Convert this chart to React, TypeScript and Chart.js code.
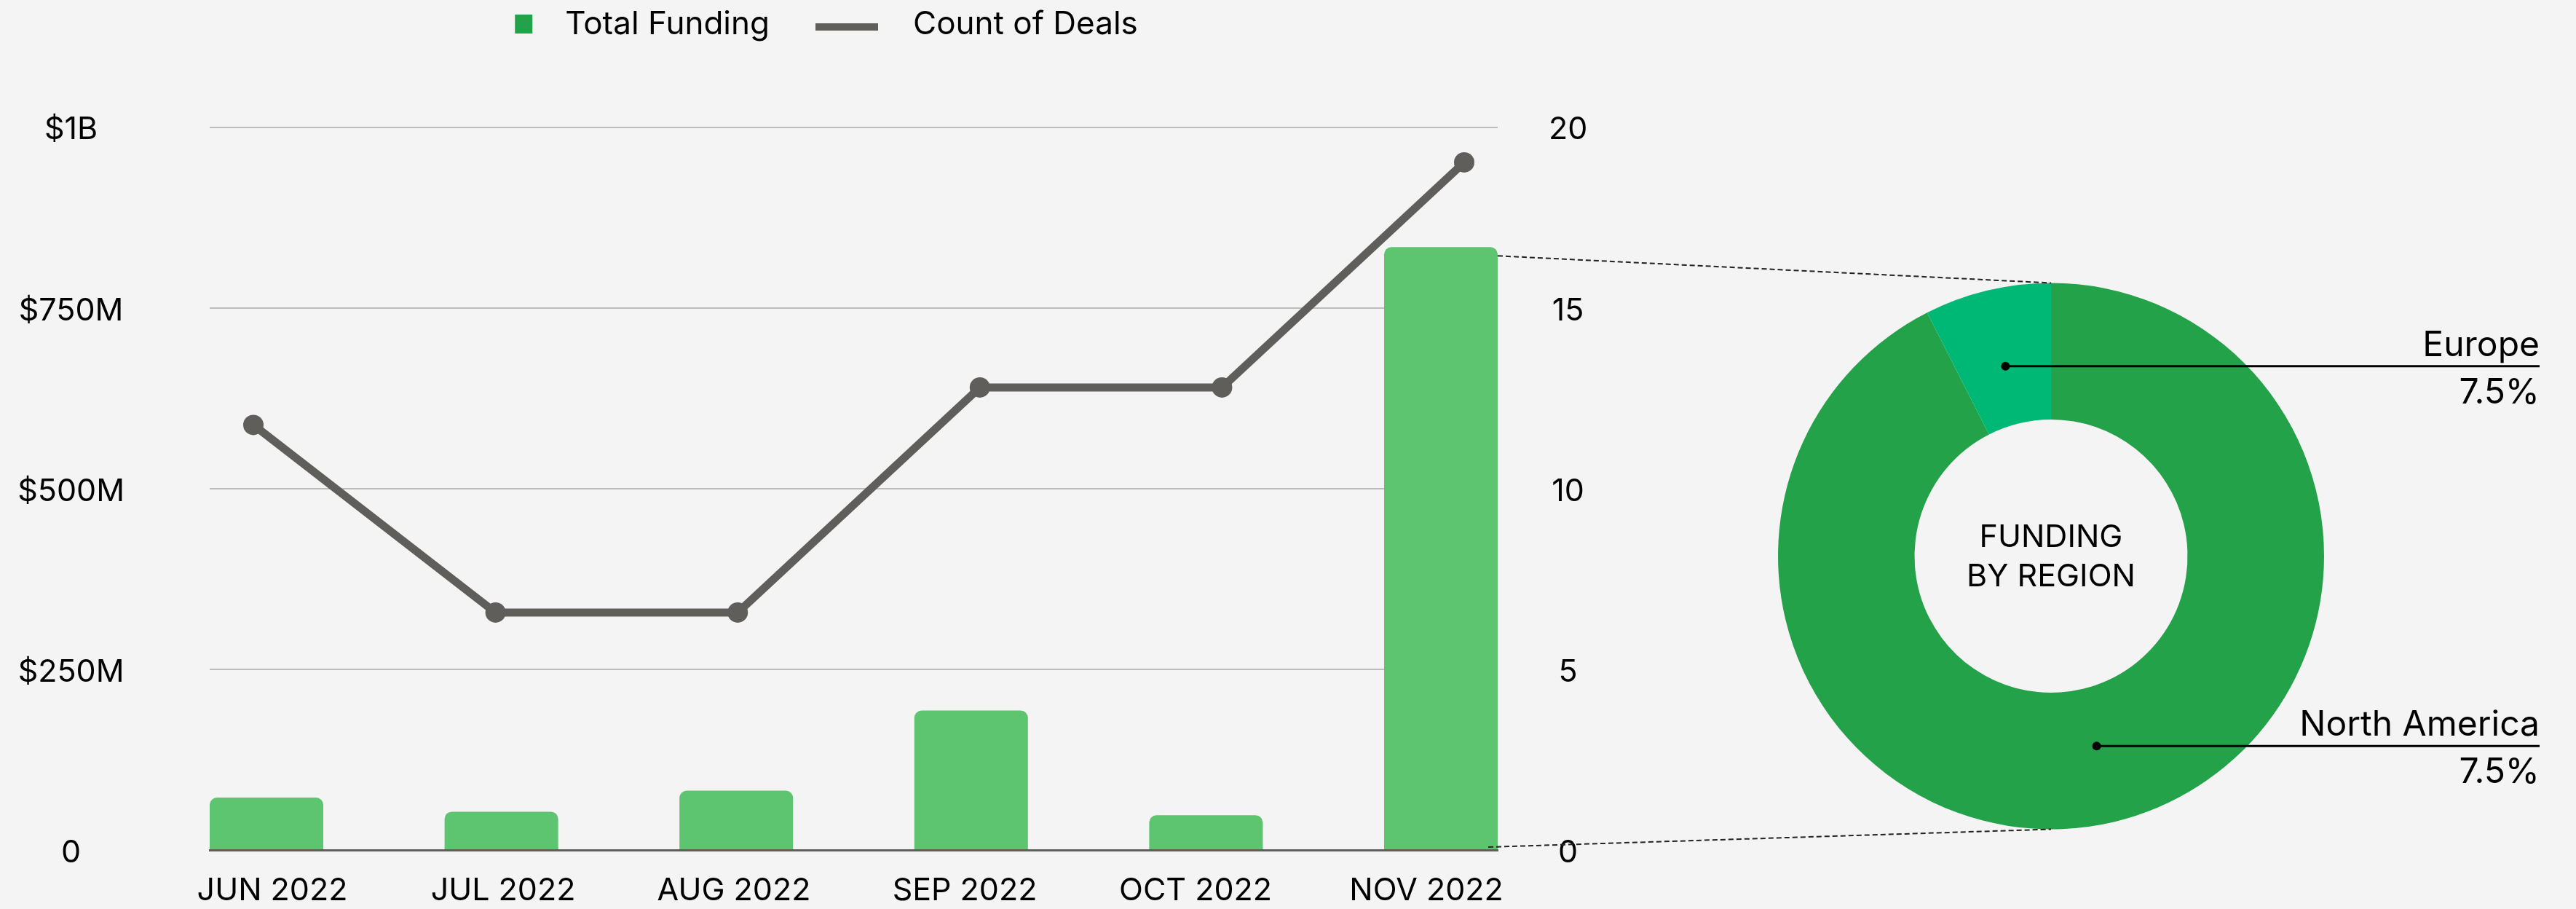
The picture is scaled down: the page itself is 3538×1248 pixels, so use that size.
import React, { useEffect, useRef } from 'react';
import { Chart, registerables } from 'chart.js';

Chart.register(...registerables);

// ---------------- data ----------------
const months = ['JUN 2022', 'JUL 2022', 'AUG 2022', 'SEP 2022', 'OCT 2022', 'NOV 2022'];
const totalFundingMillions = [72.5, 53, 82, 193, 48, 834];
const countOfDeals = [12, 7, 7, 13, 13, 19];
const fundingTickLabels = ['0', '$250M', '$500M', '$750M', '$1B'];
const dealTickLabels = ['0', '5', '10', '15', '20'];
const seriesNames = ['Total Funding', 'Count of Deals'];
const regions = ['North America', 'Europe'];
const regionShares = [92.5, 7.5];
const regionShareLabels = ['7.5%', '7.5%'];
const centerTitle = ['FUNDING', 'BY REGION'];

// ---------------- style ----------------
const W = 3538;
const H = 1248;
const FONT = 'Inter, "Noto Sans", sans-serif';
const BG = '#f4f4f4';
const BAR_GREEN = '#5dc470';
const LEGEND_GREEN = '#22a34a';
const LINE_GRAY = '#5f5e5b';
const GRID_GRAY = '#bdbdbd';
const NA_GREEN = '#24a249';
const EU_GREEN = '#00b875';

const SWATCH_W = 163;
const PLOT_LEFT = 288;
const PLOT_RIGHT = 2057;
const RIGHT_AXIS_W = 140;
const LEFT_PAD = -43;

function makeSwatch(draw: (g: CanvasRenderingContext2D) => void) {
  const c = document.createElement('canvas');
  c.width = SWATCH_W;
  c.height = 44;
  const g = c.getContext('2d')!;
  draw(g);
  return c;
}

const integerTicks = (scale: any) => {
  scale.ticks = months.map((_, i) => ({ value: i }));
};

export default function App() {
  const comboRef = useRef<HTMLCanvasElement>(null);
  const donutRef = useRef<HTMLCanvasElement>(null);

  useEffect(() => {
    Chart.defaults.font.family = FONT;
    Chart.defaults.color = '#000';

    const barSwatch = makeSwatch((g) => {
      g.fillStyle = LEGEND_GREEN;
      g.fillRect(116, 8, 24, 26);
    });
    const lineSwatch = makeSwatch((g) => {
      g.fillStyle = LINE_GRAY;
      g.fillRect(51, 20, 86, 10);
    });

    const legendSpacer = {
      id: 'legendSpacer',
      beforeInit(chart: any) {
        const legend = chart.legend;
        if (!legend) return;
        const origFit = legend.fit;
        legend.fit = function () {
          origFit.call(this);
          this.height = 174.5;
        };
      },
    };

    const combo = new Chart(comboRef.current!, {
      type: 'bar',
      data: {
        datasets: [
          {
            type: 'bar',
            label: seriesNames[0],
            data: totalFundingMillions.map((v, i) => ({ x: i, y: v })),
            xAxisID: 'xBar',
            yAxisID: 'y',
            backgroundColor: BAR_GREEN,
            borderWidth: 0,
            borderRadius: { topLeft: 10, topRight: 10, bottomLeft: 0, bottomRight: 0 },
            grouped: false,
            barPercentage: 0.4836,
            categoryPercentage: 1,
            order: 1,
          } as any,
          {
            type: 'line',
            label: seriesNames[1],
            data: countOfDeals.map((v, i) => ({ x: i, y: v })),
            xAxisID: 'xLine',
            yAxisID: 'yLine',
            borderColor: LINE_GRAY,
            backgroundColor: LINE_GRAY,
            borderWidth: 11,
            pointRadius: 14,
            pointHoverRadius: 14,
            pointBackgroundColor: LINE_GRAY,
            pointBorderWidth: 0,
            tension: 0,
            order: 0,
          } as any,
        ],
      },
      options: {
        responsive: false,
        animation: false,
        devicePixelRatio: 1,
        events: [],
        layout: { padding: { left: LEFT_PAD, right: W - PLOT_RIGHT - RIGHT_AXIS_W, top: 0, bottom: 0 } },
        plugins: {
          tooltip: { enabled: false },
          legend: {
            display: true,
            position: 'top',
            align: 'center',
            labels: {
              usePointStyle: true,
              pointStyleWidth: SWATCH_W,
              padding: 12,
              color: '#000',
              font: { family: FONT, size: 44 },
              generateLabels: (chart: any) => {
                const items = Chart.defaults.plugins.legend.labels.generateLabels(chart);
                items.sort((a: any, b: any) => a.datasetIndex - b.datasetIndex);
                return items.map((it: any) => ({
                  ...it,
                  pointStyle: it.datasetIndex === 0 ? barSwatch : lineSwatch,
                  fontColor: '#000',
                }));
              },
            },
          },
        },
        scales: {
          x: {
            type: 'linear',
            position: 'bottom',
            offset: false,
            min: -0.2713,
            max: 5.309,
            bounds: 'data',
            afterBuildTicks: integerTicks,
            afterFit: (s: any) => {
              s.height = H - 1167;
            },
            grid: { display: false, drawTicks: false, offset: false },
            border: { display: true, color: LINE_GRAY, width: 3 },
            ticks: {
              autoSkip: false,
              maxRotation: 0,
              padding: 30,
              color: '#000',
              font: { family: FONT, size: 43 },
              callback: (v: any) => months[v] ?? '',
            },
          },
          xBar: {
            type: 'linear',
            display: false,
            offset: false,
            grid: { offset: false },
            min: -0.2418,
            max: 5.2418,
            bounds: 'data',
            afterBuildTicks: integerTicks,
          },
          xLine: {
            type: 'linear',
            display: false,
            offset: false,
            grid: { offset: false },
            min: -0.1804,
            max: 5.1383,
            bounds: 'data',
            afterBuildTicks: integerTicks,
          },
          y: {
            type: 'linear',
            position: 'left',
            min: 0,
            max: 1000,
            afterFit: (s: any) => {
              s.width = PLOT_LEFT - LEFT_PAD;
              s.paddingTop = 0;
              s.paddingBottom = 0;
            },
            grid: { color: GRID_GRAY, lineWidth: 2, drawTicks: false },
            border: { display: false },
            ticks: {
              stepSize: 250,
              crossAlign: 'center',
              padding: 117,
              labelOffset: 4,
              color: '#000',
              font: { family: FONT, size: 43 },
              callback: (_v: any, i: number) => fundingTickLabels[i],
            },
          },
          y2: {
            type: 'linear',
            position: 'right',
            min: 0,
            max: 20,
            afterFit: (s: any) => {
              s.width = RIGHT_AXIS_W;
              s.paddingTop = 0;
              s.paddingBottom = 0;
            },
            grid: { display: false, drawTicks: false },
            border: { display: false },
            ticks: {
              stepSize: 5,
              crossAlign: 'center',
              padding: 70,
              labelOffset: 4,
              color: '#000',
              font: { family: FONT, size: 43 },
              callback: (_v: any, i: number) => dealTickLabels[i],
            },
          },
          yLine: {
            type: 'linear',
            display: false,
            min: 0.67,
            max: 19.94,
          },
        },
      } as any,
      plugins: [legendSpacer],
    });

    const donutDecor = {
      id: 'donutDecor',
      afterDraw(chart: any) {
        const ctx: CanvasRenderingContext2D = chart.ctx;
        const arcs = chart.getDatasetMeta(0).data as any[];
        if (!arcs.length) return;
        const cx = arcs[0].x;
        const cy = arcs[0].y;
        const R = arcs[0].outerRadius;
        const r = arcs[0].innerRadius;
        ctx.save();

        // dashed connectors from the last bar to the doughnut
        const barMeta = combo.getDatasetMeta(0);
        const lastBar: any = barMeta.data[barMeta.data.length - 1];
        if (lastBar) {
          const { x, y, width, base } = lastBar.getProps(['x', 'y', 'width', 'base'], true);
          ctx.setLineDash([7, 4]);
          ctx.lineWidth = 2;
          ctx.strokeStyle = '#222';
          ctx.beginPath();
          ctx.moveTo(x + width / 2, y + 12);
          ctx.lineTo(cx, cy - R);
          ctx.moveTo(x + width / 2 - 13, base - 3);
          ctx.lineTo(cx, cy + R);
          ctx.stroke();
          ctx.setLineDash([]);
        }

        // center title
        ctx.fillStyle = '#000';
        ctx.font = `43px ${FONT}`;
        ctx.textAlign = 'center';
        ctx.textBaseline = 'alphabetic';
        ctx.fillText(centerTitle[0], cx, cy - 13);
        ctx.fillText(centerTitle[1], cx, cy + 41.5);

        // region call-outs
        const labelRight = chart.chartArea.right + 296;
        arcs.forEach((arc: any, i: number) => {
          const mid = (arc.startAngle + arc.endAngle) / 2;
          const rr = r + (R - r) * 0.43;
          const dx = cx + Math.cos(mid) * rr;
          const dy = cy + Math.sin(mid) * rr;
          ctx.strokeStyle = '#000';
          ctx.lineWidth = 3;
          ctx.beginPath();
          ctx.moveTo(dx, dy);
          ctx.lineTo(labelRight, dy);
          ctx.stroke();
          ctx.fillStyle = '#000';
          ctx.beginPath();
          ctx.arc(dx, dy, 6, 0, Math.PI * 2);
          ctx.fill();
          ctx.font = `48px ${FONT}`;
          ctx.textAlign = 'right';
          ctx.fillText(regions[i], labelRight, dy - 14);
          ctx.fillText(regionShareLabels[i], labelRight, dy + 51);
        });
        ctx.restore();
      },
    };

    const donut = new Chart(donutRef.current!, {
      type: 'doughnut',
      data: {
        labels: regions,
        datasets: [
          {
            data: regionShares,
            backgroundColor: [NA_GREEN, EU_GREEN],
            borderWidth: 0,
            hoverBorderWidth: 0,
            hoverOffset: 0,
            offset: 0,
          } as any,
        ],
      },
      options: {
        responsive: false,
        animation: false,
        devicePixelRatio: 1,
        events: [],
        cutout: '50%',
        rotation: 0,
        layout: { padding: { left: 2442, right: W - 3192, top: 388, bottom: H - 1139 } },
        plugins: { legend: { display: false }, tooltip: { enabled: false } },
      } as any,
      plugins: [donutDecor],
    });

    return () => {
      donut.destroy();
      combo.destroy();
    };
  }, []);

  const canvasStyle: React.CSSProperties = { position: 'absolute', left: 0, top: 0, width: W, height: H };
  return (
    <div style={{ position: 'absolute', left: 0, top: 0, width: W, height: H, background: BG, overflow: 'hidden' }}>
      <canvas ref={comboRef} width={W} height={H} style={canvasStyle} />
      <canvas ref={donutRef} width={W} height={H} style={canvasStyle} />
    </div>
  );
}
